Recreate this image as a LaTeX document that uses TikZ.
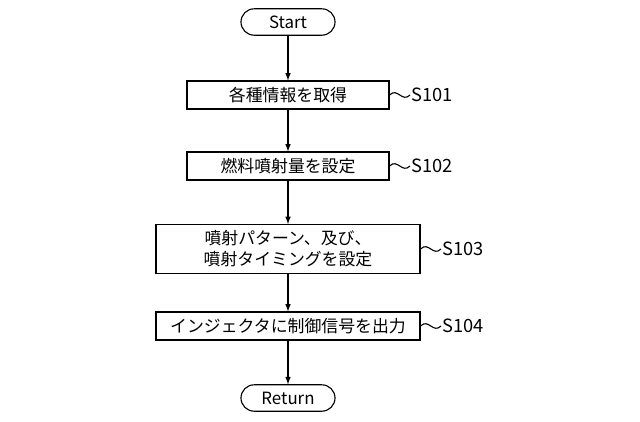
\documentclass[tikz,border=0pt]{standalone}
\usepackage{fontspec}
\setmainfont{Noto Sans CJK JP}
\usetikzlibrary{positioning}

\begin{document}
\begin{tikzpicture}[x=0.025cm,y=-0.025cm,
  every node/.style={font=\fontsize{12}{15}\selectfont},
  process/.style={draw, thick, minimum height=0.7cm, align=center, inner sep=2pt},
  terminal/.style={draw, thick, rounded corners=0.33cm, minimum height=0.66cm, minimum width=2.35cm},
  steplabel/.style={anchor=west, inner sep=1pt, font=\fontsize{13}{15}\selectfont},
  flow/.style={thick, -latex}
]
\useasboundingbox (0,0) rectangle (640,422);
\node[terminal] (start) at (288,22) {Start};
\node[process, minimum width=5.05cm] (s1) at (288,95) {各種情報を取得};
\node[process, minimum width=5.05cm] (s2) at (288,166) {燃料噴射量を設定};
\node[process, minimum width=6.6cm, minimum height=1.22cm] (s3) at (288,249) {噴射パターン、及び、\\噴射タイミングを設定};
\node[process, minimum width=6.6cm] (s4) at (288,326) {インジェクタに制御信号を出力};
\node[terminal] (ret) at (288,398) {Return};
\draw[flow] (start) -- (s1);
\draw[flow] (s1) -- (s2);
\draw[flow] (s2) -- (s3);
\draw[flow] (s3) -- (s4);
\draw[flow] (s4) -- (ret);
% step labels with wavy leaders
\foreach \nd/\lab/\x in {s1/S101/410, s2/S102/410, s3/S103/441, s4/S104/441}{
  \node[steplabel] (l\nd) at (\x,0 |- \nd.east) {\lab};
  \draw[thick] (\nd.east) .. controls ++(8,-8) and ++(-8,8) .. (l\nd.west);
}
\end{tikzpicture}
\end{document}
